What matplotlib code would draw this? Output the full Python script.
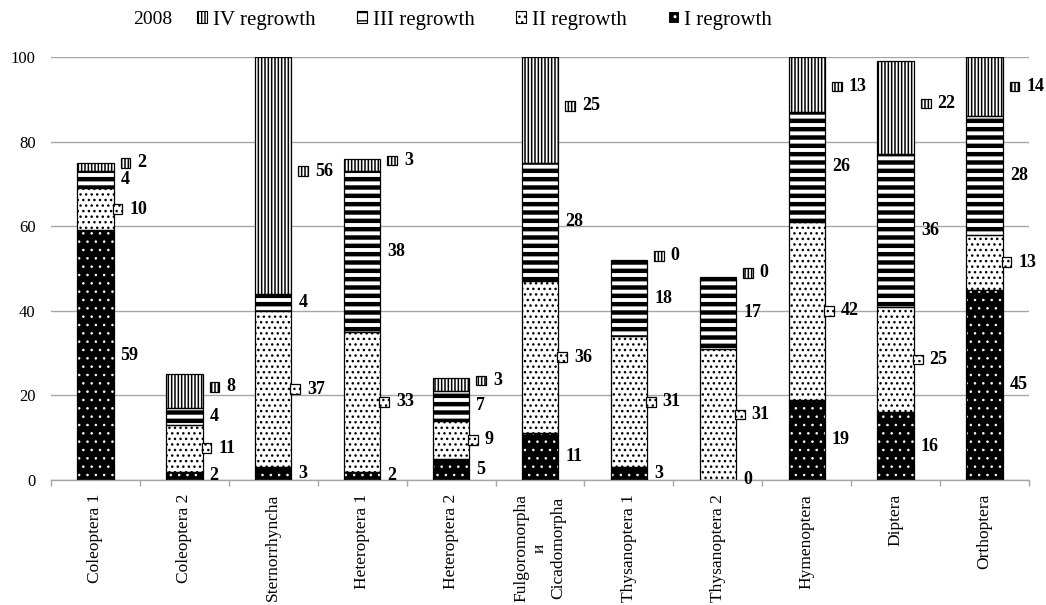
import matplotlib
matplotlib.use('Agg')
import matplotlib.pyplot as plt
from matplotlib.patches import Rectangle, Patch
from matplotlib.offsetbox import AnnotationBbox, DrawingArea, TextArea, HPacker

plt.rcParams['font.family'] = ['Liberation Serif', 'DejaVu Serif']

# Данные (2008): доля по отрастаниям, %
categories = ['Coleoptera 1', 'Coleoptera 2', 'Sternorrhyncha', 'Heteroptera 1', 'Heteroptera 2',
              'Fulgoromorpha\nи\nCicadomorpha', 'Thysanoptera 1', 'Thysanoptera 2',
              'Hymenoptera', 'Diptera', 'Orthoptera']
regrowth_1 = [59, 2, 3, 2, 5, 11, 3, 0, 19, 16, 45]
regrowth_2 = [10, 11, 37, 33, 9, 36, 31, 31, 42, 25, 13]
regrowth_3 = [4, 4, 4, 38, 7, 28, 18, 17, 26, 36, 28]
regrowth_4 = [2, 8, 56, 3, 3, 25, 0, 0, 13, 22, 14]
series_names = ['I regrowth', 'II regrowth', 'III regrowth', 'IV regrowth']

# стиль заливки: (фон, штриховка, цвет штриховки, толщина штриховки, значок у подписи)
styles = [
    ('black', '..', 'white', 0.6, False),
    ('white', '...', 'black', 1.0, True),
    ('white', '--', 'black', 3.2, False),
    ('white', '|||||', 'black', 1.1, True),
]


def hatched_rect(xy, w, h, st, **kw):
    face, hatch, hcol, hlw, _ = st
    with plt.rc_context({'hatch.linewidth': hlw}):
        r = Rectangle(xy, w, h, facecolor=face, edgecolor=hcol, hatch=hatch, lw=0, **kw)
    if hasattr(r, 'set_hatch_linewidth'):
        r.set_hatch_linewidth(hlw)
    return r


fig = plt.figure(figsize=(10.46, 6.05), dpi=100)
ax = fig.add_axes([51 / 1046, 1 - 480 / 605, 978 / 1046, 423 / 605])

x = list(range(len(categories)))
width = 0.41
data = [regrowth_1, regrowth_2, regrowth_3, regrowth_4]
bottom = [0] * len(categories)
px = 0.72  # 1 px в пунктах

for s, vals in enumerate(data):
    st = styles[s]
    for i, v in enumerate(vals):
        b = bottom[i]
        if v > 0:
            ax.add_patch(hatched_rect((i - width / 2, b), width, v, st, zorder=2))
            ax.add_patch(Rectangle((i - width / 2, b), width, v, fill=False,
                                   edgecolor='black', lw=0.9, zorder=3))
        yc = b + v / 2
        if s == 3:
            yc = min(yc + 1, 93)
        xr = i + width / 2
        if st[4]:
            da = DrawingArea(7, 7, 0, 0)
            da.add_artist(hatched_rect((0, 0), 7, 7, st))
            da.add_artist(Rectangle((0, 0), 7, 7, fill=False, edgecolor='black', lw=0.9))
            ta = TextArea(str(v), textprops=dict(fontsize=13, fontweight='bold'))
            box = HPacker(children=[da, ta], align='center', pad=0, sep=5)
            dx = 7 * px if s == 3 else -1 * px
            ab = AnnotationBbox(box, (xr, yc), xybox=(dx, 0), xycoords='data',
                                boxcoords='offset points', box_alignment=(0, 0.5),
                                frameon=False, pad=0, zorder=4)
            ax.add_artist(ab)
        else:
            ax.annotate(str(v), (xr, yc), xytext=(7 * px, 0), textcoords='offset points',
                        ha='left', va='center', fontsize=13, fontweight='bold', zorder=4)
        bottom[i] = b + v

ax.set_xlim(-0.5, len(categories) - 0.5)
ax.set_ylim(0, 100)
ax.set_yticks([0, 20, 40, 60, 80, 100])
ax.yaxis.grid(True, color='#a6a6a6', lw=1.0)
ax.set_axisbelow(True)
ax.tick_params(axis='y', length=0, pad=11, labelsize=12)

ax.set_xticks(x)
ax.set_xticklabels(categories, rotation=90, fontsize=12.5, multialignment='center')
ax.tick_params(axis='x', length=0, pad=10)
ax.set_xticks([i - 0.5 for i in range(len(categories) + 1)], minor=True)
ax.tick_params(axis='x', which='minor', length=4, color='#a6a6a6', width=1.0)

for sp in ['top', 'right', 'left']:
    ax.spines[sp].set_visible(False)
ax.spines['bottom'].set_color('#a6a6a6')
ax.spines['bottom'].set_linewidth(1.0)

# легенда
handles = []
for s in [3, 2, 1, 0]:
    face, hatch, hcol, hlw, _ = styles[s]
    with plt.rc_context({'hatch.linewidth': hlw}):
        h = Patch(facecolor=face, edgecolor=hcol if s == 0 else 'black', hatch=hatch, lw=0.8,
                  label=series_names[s])
    if hasattr(h, 'set_hatch_linewidth'):
        h.set_hatch_linewidth(hlw)
    handles.append(h)
fig.text(133 / 1046, 1 - 20 / 605, '2008', fontsize=14, va='center', ha='left')
fig.legend(handles=handles, loc='center left', bbox_to_anchor=(197 / 1046, 1 - 20 / 605),
           ncol=4, frameon=False, fontsize=15, handlelength=0.5, handleheight=0.5,
           handletextpad=0.25, columnspacing=2.0, borderpad=0, borderaxespad=0)

fig.savefig('out.png', dpi=100)
